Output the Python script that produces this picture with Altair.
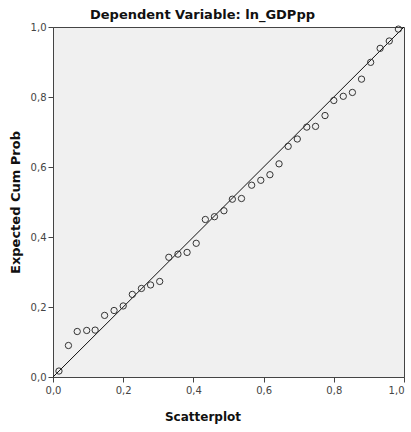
import altair as alt
import pandas as pd

observed = [0.017, 0.044, 0.069, 0.096, 0.120, 0.147, 0.174, 0.200, 0.226, 0.252,
            0.278, 0.304, 0.330, 0.356, 0.382, 0.408, 0.434, 0.460, 0.487, 0.511,
            0.537, 0.566, 0.592, 0.618, 0.644, 0.670, 0.696, 0.723, 0.748, 0.775,
            0.800, 0.827, 0.853, 0.879, 0.905, 0.932, 0.958, 0.984]
expected = [0.017, 0.090, 0.130, 0.133, 0.134, 0.176, 0.190, 0.203, 0.236, 0.253,
            0.263, 0.273, 0.342, 0.351, 0.356, 0.382, 0.450, 0.458, 0.475, 0.508,
            0.510, 0.548, 0.562, 0.578, 0.609, 0.659, 0.680, 0.714, 0.716, 0.747,
            0.790, 0.802, 0.813, 0.851, 0.899, 0.939, 0.960, 0.994]
ref_line_x = [0.0, 1.0]
ref_line_y = [0.0, 1.0]
ticks = [0.0, 0.2, 0.4, 0.6, 0.8, 1.0]

pts = pd.DataFrame({"obs": observed, "exp": expected})
ref = pd.DataFrame({"obs": ref_line_x, "exp": ref_line_y})

FONT = "DejaVu Sans"
label_expr = "replace(format(datum.value, '.1f'), '.', ',')"

xscale = alt.Scale(domain=[0, 1], nice=False, zero=False)
yscale = alt.Scale(domain=[0, 1], nice=False, zero=False)

xaxis = alt.Axis(values=ticks, labelExpr=label_expr, grid=False, title="Scatterplot",
                 domainColor="#444444", tickColor="#444444", tickSize=5,
                 labelColor="#444444", labelFont=FONT, labelFontSize=10, labelPadding=3,
                 labelAlign=alt.expr("datum.value == 1 ? 'right' : 'center'"),
                 titleFont=FONT, titleFontSize=12, titleFontWeight="bold", titleColor="#111111",
                 titleX=149.5, titleY=43, titleBaseline="alphabetic", titleAlign="center",
                 labelFlush=False)
yaxis = alt.Axis(values=ticks, labelExpr=label_expr, grid=False, title="Expected Cum Prob",
                 domainColor="#444444", tickColor="#444444", tickSize=5,
                 labelColor="#444444", labelFont=FONT, labelFontSize=10, labelPadding=2,
                 titleFont=FONT, titleFontSize=13, titleFontWeight="bold", titleColor="#111111",
                 titleX=-34, titleY=175, titleAngle=-90, titleBaseline="alphabetic",
                 titleAlign="center", labelFlush=False)

points = alt.Chart(pts).mark_point(shape="circle", filled=False, size=40,
                                   stroke="#333333", strokeWidth=1, opacity=1).encode(
    x=alt.X("obs:Q", scale=xscale, axis=xaxis),
    y=alt.Y("exp:Q", scale=yscale, axis=yaxis),
)

line = alt.Chart(ref).mark_line(color="#111111", strokeWidth=1, clip=True).encode(
    x=alt.X("obs:Q", scale=xscale),
    y=alt.Y("exp:Q", scale=yscale),
)

chart = alt.layer(line, points).properties(
    width=351, height=350,
    title=alt.TitleParams("Dependent Variable: ln_GDPpp", font=FONT, fontSize=13,
                          fontWeight="bold", color="#111111", anchor="middle",
                          frame="group", dx=-26, offset=0),
    autosize=alt.AutoSizeParams(type="none"),
    padding={"left": 53, "top": 27, "right": 7, "bottom": 55},
    background="white",
).configure_view(fill="#F0F0F0", stroke="#444444", strokeWidth=1)

chart.save("out.html", embed_options={"renderer": "svg", "actions": False})
